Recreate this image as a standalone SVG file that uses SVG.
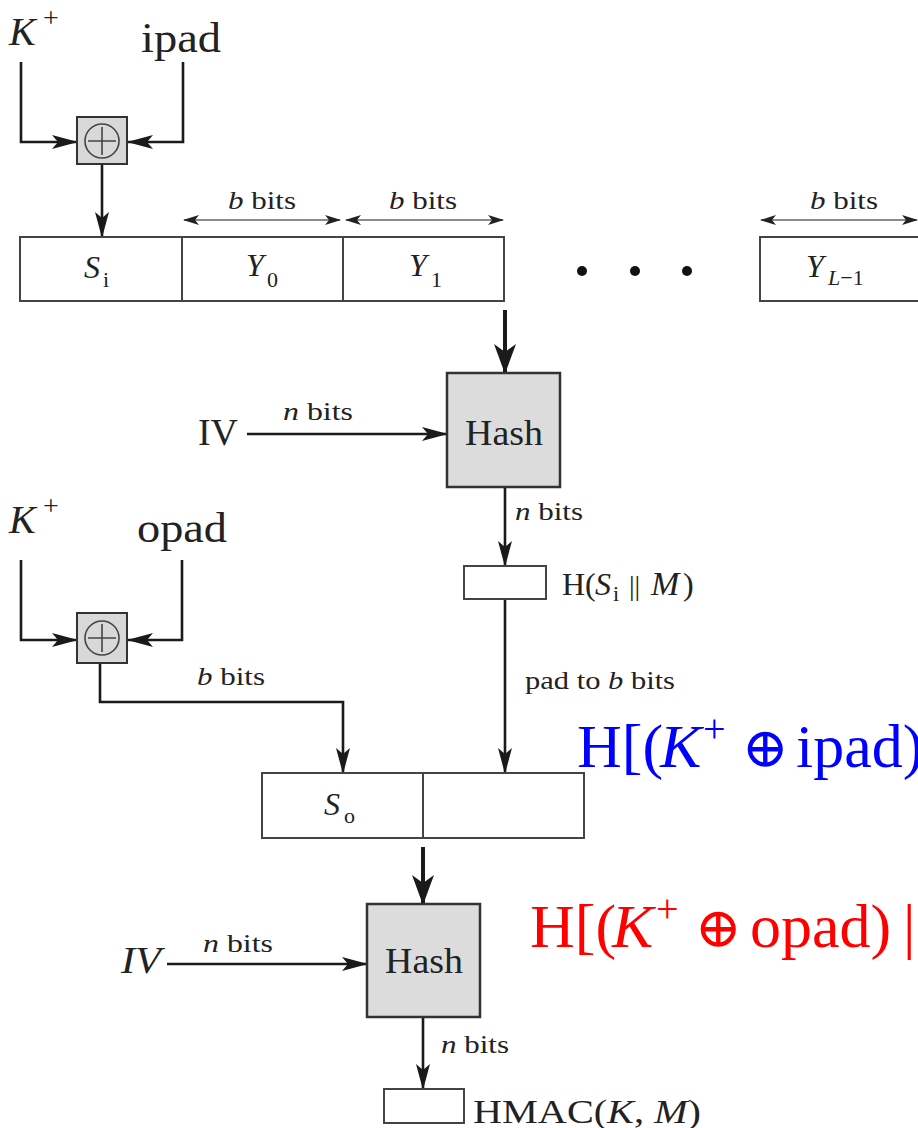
<svg xmlns="http://www.w3.org/2000/svg" width="918" height="1128" viewBox="0 0 918 1128">
<style>
  .t{font-family:"Liberation Serif","DejaVu Serif",serif;fill:#222}
  .i{font-style:italic}
  .cell{fill:#fff;stroke:#444;stroke-width:2}
  .hash{fill:#dcdcdc;stroke:#333;stroke-width:2.5}
  .xor{fill:#d8d8d8;stroke:#333;stroke-width:2}
  .xc{fill:none;stroke:#444;stroke-width:1.6}
  .ln{fill:none;stroke:#1a1a1a;stroke-width:2.6}
  .thick{fill:none;stroke:#1a1a1a;stroke-width:4}
  .dim{fill:none;stroke:#666;stroke-width:1.6}
  .fm{font-family:"Liberation Serif","DejaVu Serif",serif;font-size:62px}
</style>
<defs>
  <marker id="ah" markerUnits="userSpaceOnUse" markerWidth="26" markerHeight="14" viewBox="0 0 26 14" refX="25" refY="7" orient="auto">
    <path d="M0,0 L26,7 L0,14 L6,7 z" fill="#1a1a1a"/>
  </marker>
  <marker id="ahb" markerUnits="userSpaceOnUse" markerWidth="30" markerHeight="22" viewBox="0 0 30 22" refX="29" refY="11" orient="auto">
    <path d="M0,0 L30,11 L0,22 L8,11 z" fill="#1a1a1a"/>
  </marker>
  <marker id="ad" markerUnits="userSpaceOnUse" markerWidth="16" markerHeight="10" viewBox="0 0 16 10" refX="15" refY="5" orient="auto-start-reverse">
    <path d="M0,0 L16,5 L0,10 L4,5 z" fill="#222"/>
  </marker>
</defs>

<g id="connectors">
  <path class="ln" d="M21,62 V142 H77" marker-end="url(#ah)"/>
  <path class="ln" d="M183,62 V142 H128" marker-end="url(#ah)"/>
  <path class="ln" d="M102,164 V237" marker-end="url(#ah)"/>
  <path class="thick" d="M505,310 V373" marker-end="url(#ahb)"/>
  <path class="ln" d="M247,434 H447" marker-end="url(#ah)"/>
  <path class="ln" d="M505,487 V566" marker-end="url(#ah)"/>
  <path class="ln" d="M505,599 V773" marker-end="url(#ah)"/>
  <path class="ln" d="M21,560 V640 H77" marker-end="url(#ah)"/>
  <path class="ln" d="M182,560 V640 H128" marker-end="url(#ah)"/>
  <path class="ln" d="M100,663 V702 H343 V773" marker-end="url(#ah)"/>
  <path class="thick" d="M423,847 V904" marker-end="url(#ahb)"/>
  <path class="ln" d="M167,964 H367" marker-end="url(#ah)"/>
  <path class="ln" d="M423,1017 V1089" marker-end="url(#ah)"/>
  <path class="dim" d="M184,220 H340" marker-start="url(#ad)" marker-end="url(#ad)"/>
  <path class="dim" d="M346,220 H503" marker-start="url(#ad)" marker-end="url(#ad)"/>
  <path class="dim" d="M761,220 H917" marker-start="url(#ad)" marker-end="url(#ad)"/>
</g>

<g id="labels">
  <text class="t" y="45" font-size="40"><tspan class="i" x="9">K</tspan><tspan x="43" font-size="28" dy="-18">+</tspan></text>
  <text class="t" x="141" y="52" font-size="42" textLength="80" lengthAdjust="spacingAndGlyphs">ipad</text>
  <text class="t" x="228" y="209" font-size="26" textLength="68" lengthAdjust="spacingAndGlyphs"><tspan class="i">b</tspan> bits</text>
  <text class="t" x="389" y="209" font-size="26" textLength="68" lengthAdjust="spacingAndGlyphs"><tspan class="i">b</tspan> bits</text>
  <text class="t" x="810" y="209" font-size="26" textLength="68" lengthAdjust="spacingAndGlyphs"><tspan class="i">b</tspan> bits</text>
  <text class="t" x="198" y="445" font-size="37" textLength="40" lengthAdjust="spacingAndGlyphs">IV</text>
  <text class="t" x="283" y="420" font-size="26" textLength="70" lengthAdjust="spacingAndGlyphs"><tspan class="i">n</tspan> bits</text>
  <text class="t" x="515" y="520" font-size="26" textLength="68" lengthAdjust="spacingAndGlyphs"><tspan class="i">n</tspan> bits</text>
  <text class="t" y="595" font-size="32"><tspan x="562">H(</tspan><tspan class="i" x="595">S</tspan><tspan x="613" dy="6" font-size="22">i</tspan><tspan x="629" dy="-6" font-size="28">||</tspan><tspan class="i" x="651" font-size="34">M</tspan><tspan x="683">)</tspan></text>
  <text class="t" y="533" font-size="40"><tspan class="i" x="9">K</tspan><tspan x="43" font-size="28" dy="-18">+</tspan></text>
  <text class="t" x="137" y="542" font-size="42" textLength="90" lengthAdjust="spacingAndGlyphs">opad</text>
  <text class="t" x="197" y="685" font-size="26" textLength="68" lengthAdjust="spacingAndGlyphs"><tspan class="i">b</tspan> bits</text>
  <text class="t" x="525" y="689" font-size="26" textLength="150" lengthAdjust="spacingAndGlyphs">pad to <tspan class="i">b</tspan> bits</text>
  <text class="t i" x="121" y="973" font-size="37" textLength="40" lengthAdjust="spacingAndGlyphs">IV</text>
  <text class="t" x="203" y="952" font-size="26" textLength="70" lengthAdjust="spacingAndGlyphs"><tspan class="i">n</tspan> bits</text>
  <text class="t" x="441" y="1053" font-size="26" textLength="68" lengthAdjust="spacingAndGlyphs"><tspan class="i">n</tspan> bits</text>
  <text class="t" x="473" y="1123" font-size="34" textLength="228" lengthAdjust="spacingAndGlyphs">HMAC(<tspan class="i">K</tspan>, <tspan class="i">M</tspan>)</text>
</g>

<g id="formula-inner">
  <text class="fm" fill="#0000ff" y="767"><tspan x="577">H[(</tspan><tspan x="660" font-style="italic">K</tspan><tspan x="703" dy="-25" font-size="40">+</tspan><tspan x="742" dy="25" font-size="56">⊕</tspan><tspan x="796">ipad)</tspan></text>
</g>
<g id="formula-outer">
  <text class="fm" fill="#ff0000" y="947"><tspan x="530">H[(</tspan><tspan x="612" font-style="italic">K</tspan><tspan x="656" dy="-25" font-size="40">+</tspan><tspan x="695" dy="25" font-size="56">⊕</tspan><tspan x="750">opad)</tspan><tspan x="903">|</tspan></text>
</g>

<g id="xor1">
  <rect class="xor" x="77" y="117" width="50" height="47"/>
  <circle class="xc" cx="102" cy="141" r="17"/>
  <path class="xc" d="M88,141 H116 M102,127 V155"/>
</g>
<g id="input-row">
  <rect class="cell" x="20" y="237" width="162" height="64"/>
  <rect class="cell" x="182" y="237" width="161" height="64"/>
  <rect class="cell" x="343" y="237" width="161" height="64"/>
  <rect class="cell" x="760" y="237" width="180" height="64"/>
  <text class="t" font-size="32"><tspan class="i" x="84" y="278">S</tspan><tspan x="103" y="287" font-size="22">i</tspan></text>
  <text class="t" font-size="32"><tspan class="i" x="246" y="276">Y</tspan><tspan x="267" y="287" font-size="22">0</tspan></text>
  <text class="t" font-size="32"><tspan class="i" x="409" y="276">Y</tspan><tspan x="431" y="287" font-size="22">1</tspan></text>
  <text class="t" font-size="32"><tspan class="i" x="806" y="277">Y</tspan><tspan x="828" y="285" font-size="22"><tspan class="i">L</tspan>−1</tspan></text>
  <circle cx="582" cy="271" r="5" fill="#111"/>
  <circle cx="635" cy="271" r="5" fill="#111"/>
  <circle cx="687" cy="271" r="5" fill="#111"/>
</g>
<g id="hash1">
  <rect class="hash" x="447" y="373" width="113" height="114"/>
  <text class="t" x="465" y="445" font-size="36" textLength="78" lengthAdjust="spacingAndGlyphs">Hash</text>
</g>
<g id="inner-result">
  <rect class="cell" x="464" y="566" width="82" height="33"/>
</g>
<g id="xor2">
  <rect class="xor" x="77" y="613" width="50" height="50"/>
  <circle class="xc" cx="102" cy="638" r="17"/>
  <path class="xc" d="M88,638 H116 M102,624 V652"/>
</g>
<g id="outer-row">
  <rect class="cell" x="262" y="773" width="161" height="65"/>
  <rect class="cell" x="423" y="773" width="161" height="65"/>
  <text class="t" font-size="32"><tspan class="i" x="324" y="815">S</tspan><tspan x="344" y="823" font-size="22">o</tspan></text>
</g>
<g id="hash2">
  <rect class="hash" x="367" y="904" width="113" height="113"/>
  <text class="t" x="385" y="973" font-size="36" textLength="78" lengthAdjust="spacingAndGlyphs">Hash</text>
</g>
<g id="hmac">
  <rect class="cell" x="384" y="1089" width="80" height="34"/>
</g>
</svg>
